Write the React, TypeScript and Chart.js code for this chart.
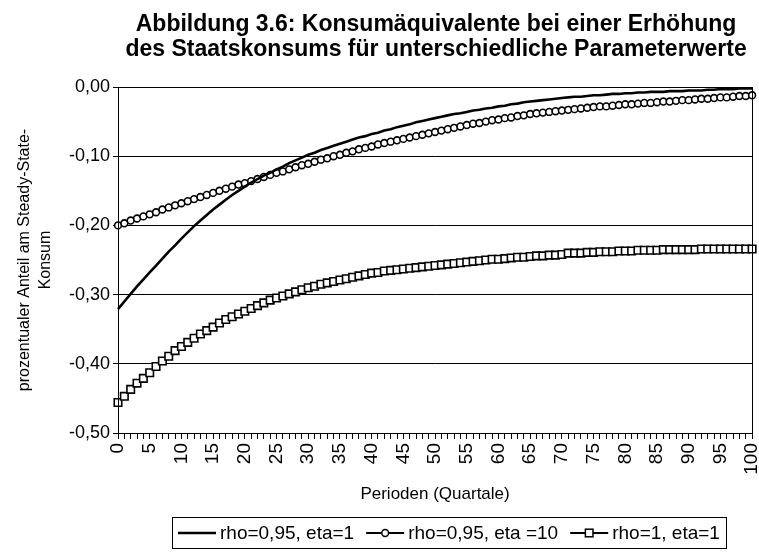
import React, { useEffect, useRef } from "react";
import { Chart, registerables } from "chart.js";

Chart.register(...registerables);

const periods: number[] = Array.from({ length: 101 }, (_, i) => i);

const rho095eta1: number[] = [
  -0.321, -0.310, -0.299, -0.288, -0.278, -0.268, -0.258, -0.248, -0.238, -0.229,
  -0.219, -0.210, -0.201, -0.193, -0.185, -0.177, -0.170, -0.163, -0.156, -0.150,
  -0.144, -0.138, -0.133, -0.128, -0.124, -0.119, -0.115, -0.110, -0.106, -0.102,
  -0.098, -0.095, -0.091, -0.088, -0.085, -0.082, -0.079, -0.076, -0.073, -0.071,
  -0.068, -0.066, -0.063, -0.061, -0.058, -0.056, -0.054, -0.051, -0.049, -0.047,
  -0.045, -0.043, -0.041, -0.039, -0.038, -0.036, -0.034, -0.033, -0.031, -0.030,
  -0.028, -0.027, -0.025, -0.024, -0.022, -0.021, -0.020, -0.019, -0.018, -0.017,
  -0.016, -0.015, -0.014, -0.014, -0.013, -0.012, -0.012, -0.011, -0.010, -0.010,
  -0.009, -0.009, -0.008, -0.008, -0.007, -0.007, -0.007, -0.006, -0.006, -0.006,
  -0.005, -0.005, -0.005, -0.004, -0.004, -0.003, -0.003, -0.003, -0.002, -0.002,
  -0.002,
];

const rho095eta10: number[] = [
  -0.200, -0.197, -0.193, -0.190, -0.187, -0.184, -0.181, -0.177, -0.174, -0.171,
  -0.168, -0.165, -0.162, -0.159, -0.156, -0.153, -0.150, -0.147, -0.144, -0.141,
  -0.139, -0.136, -0.133, -0.130, -0.127, -0.124, -0.122, -0.119, -0.116, -0.113,
  -0.111, -0.108, -0.105, -0.103, -0.100, -0.098, -0.095, -0.093, -0.090, -0.088,
  -0.086, -0.083, -0.081, -0.079, -0.077, -0.075, -0.073, -0.071, -0.069, -0.067,
  -0.065, -0.063, -0.061, -0.059, -0.057, -0.055, -0.053, -0.052, -0.050, -0.048,
  -0.047, -0.045, -0.044, -0.042, -0.041, -0.039, -0.038, -0.037, -0.036, -0.035,
  -0.034, -0.033, -0.032, -0.031, -0.030, -0.029, -0.028, -0.028, -0.027, -0.026,
  -0.025, -0.025, -0.024, -0.023, -0.023, -0.022, -0.021, -0.021, -0.020, -0.019,
  -0.019, -0.018, -0.017, -0.017, -0.016, -0.015, -0.015, -0.014, -0.013, -0.013,
  -0.012,
];

const rho1eta1: number[] = [
  -0.456, -0.447, -0.437, -0.428, -0.421, -0.413, -0.404, -0.396, -0.389, -0.381,
  -0.375, -0.369, -0.363, -0.357, -0.352, -0.347, -0.341, -0.336, -0.332, -0.328,
  -0.324, -0.320, -0.316, -0.312, -0.308, -0.305, -0.302, -0.299, -0.296, -0.293,
  -0.290, -0.288, -0.285, -0.283, -0.281, -0.279, -0.277, -0.275, -0.273, -0.271,
  -0.269, -0.268, -0.266, -0.265, -0.264, -0.263, -0.262, -0.261, -0.260, -0.259,
  -0.258, -0.257, -0.256, -0.255, -0.254, -0.253, -0.252, -0.251, -0.250, -0.249,
  -0.249, -0.248, -0.247, -0.246, -0.246, -0.245, -0.244, -0.244, -0.243, -0.243,
  -0.242, -0.240, -0.240, -0.240, -0.239, -0.239, -0.238, -0.238, -0.238, -0.237,
  -0.237, -0.237, -0.236, -0.236, -0.236, -0.236, -0.235, -0.235, -0.235, -0.235,
  -0.235, -0.235, -0.234, -0.234, -0.234, -0.234, -0.234, -0.234, -0.234, -0.234,
  -0.234,
];

const yMin = -0.5;
const yMax = 0;
const yStep = 0.1;
const xLabelEvery = 5;

const titleLines = [
  "Abbildung 3.6: Konsumäquivalente bei einer Erhöhung",
  "des Staatskonsums für unterschiedliche Parameterwerte",
];
const yTitleLines = ["prozentualer Anteil am Steady-State-", "Konsum"];
const xTitle = "Perioden (Quartale)";
const legendLabels = ["rho=0,95, eta=1", "rho=0,95, eta =10", "rho=1, eta=1"];

const FONT = "'Liberation Sans', Arial, sans-serif";

const decorPlugin = {
  id: "decor",
  afterDraw(chart: any) {
    const ctx = chart.ctx as CanvasRenderingContext2D;
    const a = chart.chartArea;
    ctx.save();
    ctx.strokeStyle = "#000";
    ctx.lineWidth = 1;
    ctx.strokeRect(Math.round(a.left) + 0.5, Math.round(a.top) + 0.5, Math.round(a.right - a.left), Math.round(a.bottom - a.top));

    const cx = (a.left + a.right) / 2;
    ctx.fillStyle = "#000";
    ctx.font = `bold 23px ${FONT}`;
    ctx.textAlign = "center";
    ctx.textBaseline = "alphabetic";
    ctx.fillText(titleLines[0], cx + 1, 31);
    ctx.fillText(titleLines[1], cx + 1, 56);

    ctx.font = `17px ${FONT}`;
    ctx.textBaseline = "middle";
    ctx.fillText(xTitle, cx, 494);

    const cy = (a.top + a.bottom) / 2;
    ctx.font = `16px ${FONT}`;
    ctx.save();
    ctx.translate(25, cy);
    ctx.rotate(-Math.PI / 2);
    ctx.fillText(yTitleLines[0], 0, 0);
    ctx.restore();
    ctx.save();
    ctx.translate(46, cy);
    ctx.rotate(-Math.PI / 2);
    ctx.fillText(yTitleLines[1], 0, 0);
    ctx.restore();

    // legend
    ctx.font = `19px ${FONT}`;
    const sampleW = 38;
    const gapAfterSample = 4;
    const gapAfterText = 12;
    const widths = legendLabels.map((l) => ctx.measureText(l).width);
    let total = 0;
    widths.forEach((w) => (total += sampleW + gapAfterSample + w + gapAfterText));
    total -= gapAfterText;
    const boxPad = 6;
    const boxW = total + boxPad * 2;
    const boxX = Math.round(449 - boxW / 2);
    const boxY = 517;
    const boxH = 31;
    ctx.lineWidth = 1;
    ctx.strokeRect(boxX + 0.5, boxY + 0.5, Math.round(boxW), boxH);
    const ly = boxY + boxH / 2 + 0.5;
    let x = boxX + boxPad;
    ctx.textAlign = "left";
    ctx.textBaseline = "middle";
    for (let i = 0; i < legendLabels.length; i++) {
      ctx.beginPath();
      ctx.lineWidth = i === 0 ? 2.5 : 2;
      ctx.moveTo(x, ly);
      ctx.lineTo(x + sampleW, ly);
      ctx.stroke();
      const mx = x + sampleW / 2;
      ctx.lineWidth = 1.5;
      if (i === 1) {
        ctx.beginPath();
        ctx.arc(mx, ly, 3.4, 0, Math.PI * 2);
        ctx.fillStyle = "#fff";
        ctx.fill();
        ctx.stroke();
      } else if (i === 2) {
        ctx.fillStyle = "#fff";
        ctx.fillRect(mx - 3.8, ly - 3.8, 7.6, 7.6);
        ctx.strokeRect(mx - 3.8, ly - 3.8, 7.6, 7.6);
      }
      ctx.fillStyle = "#000";
      x += sampleW + gapAfterSample;
      ctx.fillText(legendLabels[i], x, ly + 1);
      x += widths[i] + gapAfterText;
    }
    ctx.restore();
  },
};

export default function App() {
  const ref = useRef<HTMLCanvasElement>(null);
  useEffect(() => {
    if (!ref.current) return;
    const chart = new Chart(ref.current, {
      type: "line",
      data: {
        labels: periods,
        datasets: [
          {
            label: legendLabels[0],
            data: rho095eta1,
            borderColor: "#000",
            borderWidth: 2.6,
            pointRadius: 0,
            tension: 0,
          },
          {
            label: legendLabels[1],
            data: rho095eta10,
            borderColor: "#000",
            borderWidth: 1.5,
            pointStyle: "circle",
            pointRadius: 3.4,
            pointBorderWidth: 1.6,
            pointBackgroundColor: "#fff",
            pointBorderColor: "#000",
            tension: 0,
          },
          {
            label: legendLabels[2],
            data: rho1eta1,
            borderColor: "#000",
            borderWidth: 1.5,
            pointStyle: "rect",
            pointRadius: 5.3,
            pointBorderWidth: 1.6,
            pointBackgroundColor: "#fff",
            pointBorderColor: "#000",
            tension: 0,
          },
        ],
      },
      options: {
        responsive: false,
        animation: false,
        events: [],
        layout: { padding: { left: 0, right: 2, top: 87, bottom: 0 } },
        plugins: {
          legend: { display: false },
          title: { display: false },
          tooltip: { enabled: false },
        },
        scales: {
          x: {
            type: "category",
            offset: false,
            grid: {
              display: true,
              drawOnChartArea: false,
              drawTicks: true,
              tickLength: 6,
              color: "#000",
            },
            border: { display: true, color: "#000", width: 1 },
            ticks: {
              autoSkip: false,
              minRotation: 90,
              maxRotation: 90,
              padding: 4,
              color: "#000",
              font: { family: FONT, size: 19 },
              callback: (_v: any, idx: number) =>
                periods[idx] % xLabelEvery === 0 ? String(periods[idx]) : "",
            },
            afterFit: (s: any) => {
              s.height = 123;
              s.paddingLeft = 0;
              s.paddingRight = 0;
            },
          },
          y: {
            min: yMin,
            max: yMax,
            grid: {
              display: true,
              drawOnChartArea: true,
              drawTicks: true,
              tickLength: 5,
              color: "#000",
              lineWidth: 1,
            },
            border: { display: true, color: "#000", width: 1 },
            ticks: {
              stepSize: yStep,
              padding: 3,
              color: "#000",
              font: { family: FONT, size: 18 },
              callback: (v: any) => Number(v).toFixed(2).replace(".", ","),
            },
            afterFit: (s: any) => {
              s.width = 118;
              s.paddingTop = 0;
              s.paddingBottom = 0;
            },
          },
        },
      },
      plugins: [decorPlugin],
    });
    return () => chart.destroy();
  }, []);
  return (
    <div style={{ position: "absolute", left: 0, top: 0, width: 759, height: 556, background: "#fff" }}>
      <canvas ref={ref} width={759} height={556} style={{ display: "block" }} />
    </div>
  );
}
